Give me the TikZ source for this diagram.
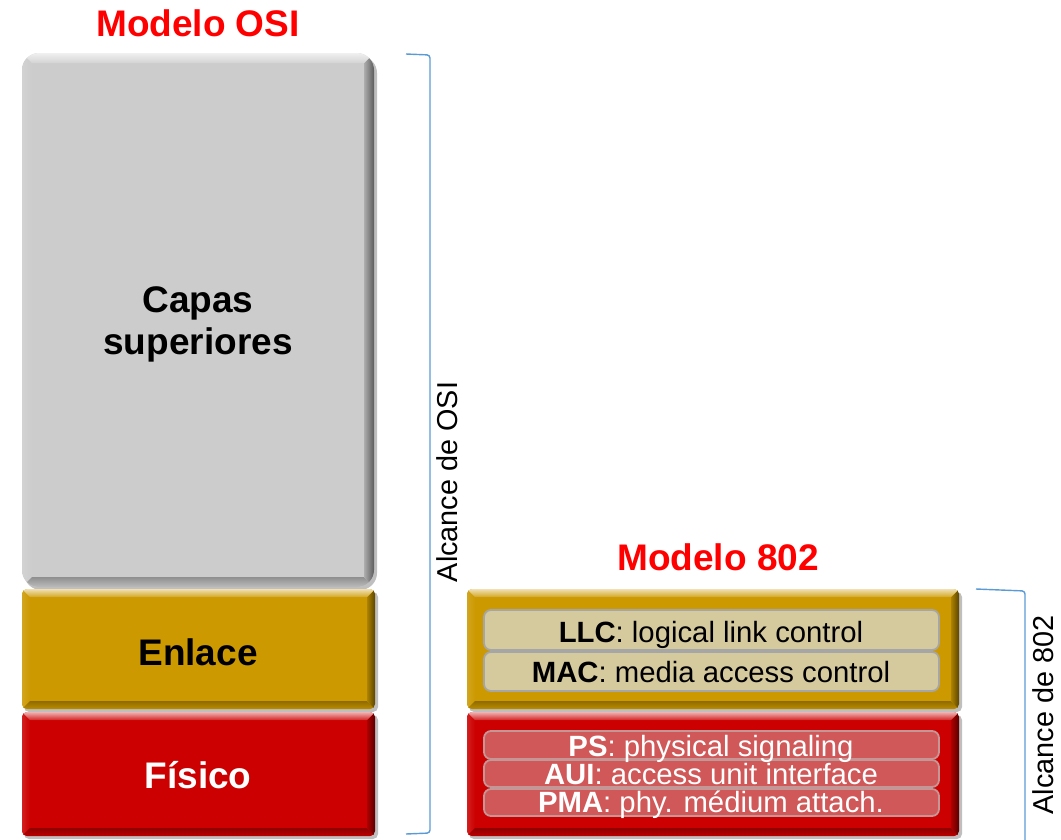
\documentclass[tikz,border=0pt]{standalone}
\usepackage{fontspec}
\setmainfont{Liberation Sans}
\usetikzlibrary{calc}

\definecolor{osired}{RGB}{255,0,0}
\definecolor{greylayer}{RGB}{204,204,204}
\definecolor{goldlayer}{RGB}{204,153,0}
\definecolor{redlayer}{RGB}{204,0,0}
\definecolor{tanbox}{RGB}{213,201,158}
\definecolor{pinkbox}{RGB}{208,88,88}
\definecolor{subedge}{RGB}{166,166,166}
\definecolor{pinkedge}{RGB}{196,150,150}
\definecolor{bracketblue}{RGB}{91,155,213}

\tikzset{
  title/.style={font=\bfseries\fontsize{37}{42}\selectfont, text=osired, inner sep=0pt},
  layertext/.style={font=\bfseries\fontsize{37}{42}\selectfont, align=center, inner sep=0pt},
  subtext/.style={font=\fontsize{29.3}{30}\selectfont, inner sep=0pt, text height=21pt, text depth=0pt},
  sidetext/.style={font=\fontsize{28.8}{30}\selectfont, rotate=90, inner sep=0pt},
  subbox/.style={rounded corners=7pt, line width=1.8pt},
  bracket/.style={draw=bracketblue, line width=1.4pt, rounded corners=3pt},
}

% Bevelled layer block: #1 x1, #2 y1, #3 x2, #4 y2, #5 colour, #6 corner radius, #7 bevel width
\newcommand\bevelbox[7]{%
  \fill[black, opacity=0.25, rounded corners=#6] (#1+2,#2+3) rectangle (#3+3,#4+3);
  \begin{scope}
    \clip[rounded corners=#6] (#1,#2) rectangle (#3,#4);
    \fill[#5] (#1,#2) rectangle (#3,#4);
    \shade[left color=#5!88!white, right color=#5] (#1,#2) -- (#1+#7,#2+#7) -- (#1+#7,#4-#7) -- (#1,#4) -- cycle;
    \shade[top color=#5!70!black, bottom color=#5!92!black] (#1,#4) -- (#1+#7,#4-#7) -- (#3-#7,#4-#7) -- (#3,#4) -- cycle;
    \shade[left color=#5!85!black, right color=#5!45!black] (#3,#2) -- (#3,#4) -- (#3-#7,#4-#7) -- (#3-#7,#2+#7) -- cycle;
    \shade[top color=#5!30!white, bottom color=#5!85!white] (#1,#2) -- (#3,#2) -- (#3-#7,#2+#7) -- (#1+#7,#2+#7) -- cycle;
  \end{scope}}

\begin{document}
\begin{tikzpicture}[x=1pt, y=-1pt]
  \useasboundingbox (0,0) rectangle (1061,839);

  % ---------- OSI stack ----------
  \node[title] (osititle) at (198,23) {Modelo OSI};
  \bevelbox{22}{53}{374}{587}{greylayer}{17pt}{10}
  \bevelbox{22}{589}{375}{709}{goldlayer}{5pt}{8}
  \bevelbox{22}{712}{375}{836}{redlayer}{5pt}{8}
  \node[layertext] (upper) at (198,324) {Capas\\superiores};
  \node[layertext] (link) at (198,652) {Enlace};
  \node[layertext, text=white] (phys) at (198,775) {Físico};

  % OSI scope bracket
  \coordinate (osiA) at (406,54);
  \coordinate (osiB) at (430,55);
  \coordinate (osiC) at (430,833);
  \coordinate (osiD) at (406,834);
  \draw[bracket] (osiA) -- (osiB) -- (osiC) -- (osiD);
  \node[sidetext] (osiscope) at (447,482) {Alcance de OSI};

  % ---------- 802 stack ----------
  \node[title] (ieeetitle) at (718,557) {Modelo 802};
  \bevelbox{467}{589}{959}{709}{goldlayer}{5pt}{8}
  \bevelbox{467}{712}{959}{836}{redlayer}{5pt}{8}

  \draw[subbox, fill=tanbox, draw=subedge] (484,610) rectangle (939,650);
  \draw[subbox, fill=tanbox, draw=subedge] (484,652) rectangle (939,691);
  \draw[subbox, fill=pinkbox, draw=pinkedge] (484,731) rectangle (939,759);
  \draw[subbox, fill=pinkbox, draw=pinkedge] (484,760) rectangle (939,787);
  \draw[subbox, fill=pinkbox, draw=pinkedge] (484,789) rectangle (939,816);

  \node[subtext] (llc) at (711,632) {\textbf{LLC}: logical link control};
  \node[subtext] (mac) at (711,672) {\textbf{MAC}: media access control};
  \node[subtext, text=white] (ps) at (711,746) {\textbf{PS}: physical signaling};
  \node[subtext, text=white] (aui) at (711,774) {\textbf{AUI}: access unit interface};
  \node[subtext, text=white] (pma) at (711,802) {\textbf{PMA}: phy. médium attach.};

  % 802 scope bracket
  \coordinate (ieeeA) at (976,589);
  \coordinate (ieeeB) at (1025,591);
  \coordinate (ieeeC) at (1025,845);
  \draw[bracket] (ieeeA) -- (ieeeB) -- (ieeeC);
  \node[sidetext] (ieeescope) at (1043,715) {Alcance de 802};
\end{tikzpicture}
\end{document}
